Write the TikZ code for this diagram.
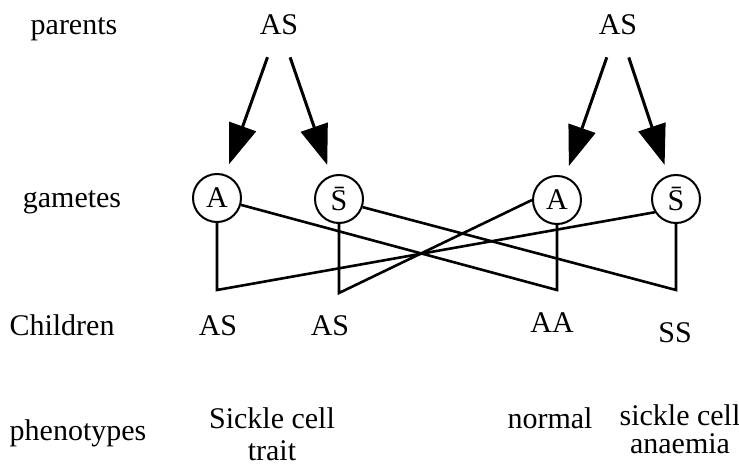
\documentclass[tikz,border=0pt]{standalone}
\usepackage{fontspec}
\setmainfont{Liberation Serif}
\usetikzlibrary{arrows.meta}

\begin{document}
\begin{tikzpicture}[
    x=0.5pt, y=-0.5pt,
    every node/.style={font=\fontsize{15}{16}\selectfont, inner sep=1pt},
    lbl/.style={anchor=base},
    gam/.style={draw, circle, line width=1pt, minimum size=24pt, inner sep=0pt},
    arr/.style={-{Triangle[length=20pt, width=14pt]}, line width=1.5pt,
                shorten <=17pt, shorten >=18pt},
    ln/.style={line width=1.3pt}
]
    \useasboundingbox (0,0) rectangle (739,465);

    % row labels
    \node[lbl] (rpar) at (74,35)  {parents};
    \node[lbl] (rgam) at (72,207) {gametes};
    \node[lbl] (rchi) at (62,335) {Children};
    \node[lbl] (rphe) at (78,440) {phenotypes};

    % parents and gametes
    \node[lbl] (p1) at (279,35) {AS};
    \node[lbl] (p2) at (618,35) {AS};
    \node[gam] (g1) at (217,198) {A};
    \node[gam] (g2) at (339,199) {\={S}};
    \node[gam] (g3) at (557,200) {A};
    \node[gam] (g4) at (676,199) {\={S}};

    \draw[arr] (p1.center) -- (g1.center);
    \draw[arr] (p1.center) -- (g2.center);
    \draw[arr] (p2.center) -- (g3.center);
    \draw[arr] (p2.center) -- (g4.center);

    % crossing lines
    \coordinate (c1) at (217,290);
    \coordinate (c2) at (339,293);
    \coordinate (c3) at (557,290);
    \coordinate (c4) at (676,290);
    \draw[ln] (g1.south) -- (c1) -- (g4.212);
    \draw[ln] (g2.south) -- (c2) -- (g3.west);
    \draw[ln] (g1.344) -- (c3) -- (g3.south);
    \draw[ln] (g2.341) -- (c4) -- (g4.south);

    % children
    \node[lbl] (k1) at (218,335) {AS};
    \node[lbl] (k2) at (330,335) {AS};
    \node[lbl] (k3) at (552,332) {AA};
    \node[lbl] (k4) at (675,342) {SS};

    % phenotypes
    \node[lbl, align=center] (f1) at (272,460) {Sickle cell\\trait};
    \node[lbl] (f2) at (550,428) {normal};
    \node[lbl, align=center] (f3) at (680,453) {sickle cell\\[-2pt]anaemia};
\end{tikzpicture}
\end{document}
